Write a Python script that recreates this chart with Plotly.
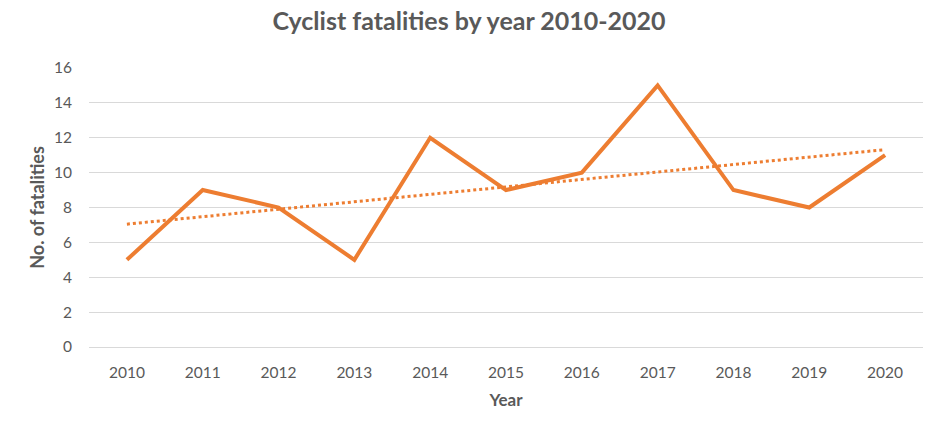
import numpy as np
import plotly.graph_objects as go

years = ["2010", "2011", "2012", "2013", "2014", "2015", "2016", "2017", "2018", "2019", "2020"]
fatalities = [5, 9, 8, 5, 12, 9, 10, 15, 9, 8, 11]
y_ticks = [0, 2, 4, 6, 8, 10, 12, 14, 16]

# Linear trendline (least squares) fitted to the data
idx = np.arange(len(fatalities))
slope, intercept = np.polyfit(idx, fatalities, 1)
trend = slope * idx + intercept

FONT = "Lato, Open Sans, sans-serif"
GREY = "#595959"
ORANGE = "#ED7D31"

fig = go.Figure()
fig.add_trace(go.Scatter(x=years, y=fatalities, mode="lines",
                         line=dict(color=ORANGE, width=4), showlegend=False))
fig.add_trace(go.Scatter(x=years, y=trend, mode="lines",
                         line=dict(color=ORANGE, width=3, dash="dot"), showlegend=False))

fig.update_layout(
    width=938, height=434,
    margin=dict(l=89, r=15, t=68, b=87),
    paper_bgcolor="white", plot_bgcolor="white",
    font=dict(family=FONT, color=GREY, size=15),
    title=dict(text="<b>Cyclist fatalities by year 2010-2020</b>",
               x=0.5, xanchor="center", y=0.95, yanchor="middle",
               font=dict(size=25, color=GREY, family=FONT)),
    xaxis=dict(type="category", range=[-0.5, 10.5], showgrid=False,
               showline=False, ticks="", ticklabelstandoff=14,
               tickfont=dict(size=15.5, color=GREY),
               title=dict(text="<b>Year</b>", font=dict(size=17, color=GREY), standoff=14)),
    yaxis=dict(range=[0, 16], tickvals=y_ticks, showgrid=True, gridcolor="#D9D9D9",
               gridwidth=1, zeroline=True, zerolinecolor="#D9D9D9", zerolinewidth=1,
               showline=False, ticks="", ticklabelstandoff=16,
               tickfont=dict(size=15.5, color=GREY),
               title=dict(text="<b>No. of fatalities</b>", font=dict(size=18, color=GREY), standoff=4)),
)

fig.write_html("out.html", config={"displayModeBar": False},
               post_script="document.body.style.margin='0';")
